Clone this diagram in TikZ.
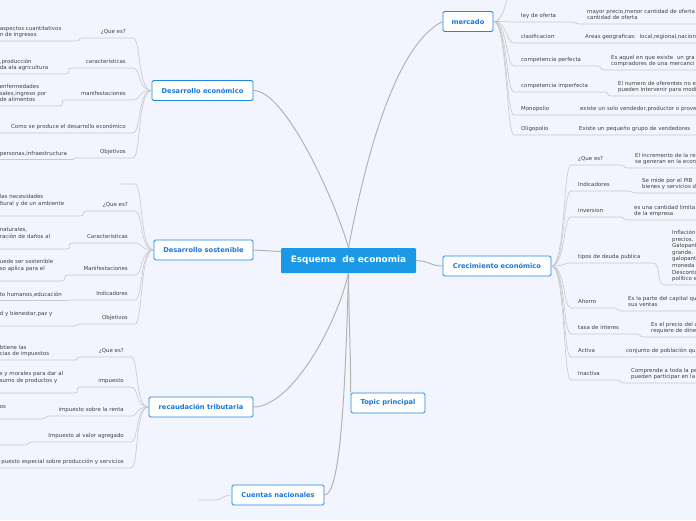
\documentclass[tikz,border=0pt]{standalone}
\usepackage{fontspec}
\setmainfont{DejaVu Sans}

\definecolor{paper}{RGB}{242,245,253}
\definecolor{rootblue}{RGB}{27,152,230}
\definecolor{topicblue}{RGB}{33,135,228}
\definecolor{topictext}{RGB}{22,120,220}
\definecolor{subtext}{RGB}{64,64,64}
\definecolor{linkgray}{RGB}{180,180,180}
\definecolor{twiggray}{RGB}{200,200,200}

\newcommand\lnstrut{\rule[-1.8pt]{0pt}{1.8pt}}

\tikzset{
  root/.style={fill=rootblue, text=white, font=\bfseries\fontsize{8.9}{10}\selectfont,
    minimum width=135pt, minimum height=25pt, rounded corners=1pt, inner sep=0pt},
  topic/.style={draw=topicblue, fill=white, text=topictext, line width=0.9pt,
    font=\bfseries\fontsize{6.7}{8}\selectfont, minimum height=20pt, rounded corners=1.5pt, inner sep=0pt},
  sub/.style={text=subtext, font=\fontsize{5.45}{6.6}\selectfont, inner xsep=7pt, inner ysep=2.4pt,
    execute at end node=\lnstrut},
  lsub/.style={sub, align=right, anchor=south east},
  rsub/.style={sub, align=left, anchor=south west},
  lleaf/.style={sub, inner xsep=0pt, align=left, anchor=south east},
  rleaf/.style={sub, text width=200pt, align=left, anchor=south west},
  link/.style={draw=linkgray, line width=1pt},
  twig/.style={draw=twiggray, line width=0.6pt},
}

\begin{document}
\begin{tikzpicture}[x=1pt,y=-1pt]
    \useasboundingbox (0,0) rectangle (696,520);
    \clip (0,0) rectangle (696,520);
    \fill[paper] (0,0) rectangle (696,520);

    \node[root] (root) at (348.5,260.5) {Esquema\ \ de economia};
    \node[topic, minimum width=101pt] (deco) at (202.5,90.5) {Desarrollo económico};
    \node[topic, minimum width=99pt] (desos) at (203.5,250) {Desarrollo sostenible};
    \node[topic, minimum width=104pt] (recaud) at (201,407) {recaudación tributaria};
    \node[topic, minimum width=92pt] (cuentas) at (278,495) {Cuentas nacionales};
    \node[topic, minimum width=74pt] (tp) at (388,403) {Topic principal};
    \node[topic, minimum width=50pt] (mercado) at (468,21.5) {mercado};
    \node[topic, minimum width=108pt] (crec) at (497,266) {Crecimiento económico};

    \draw[link] (root.north) .. controls (335,200) and (285,90) .. (deco.east);
    \draw[link] (root.north) .. controls (365,160) and (395,45) .. (mercado.west);
    \draw[link] ([yshift=9pt]root.west) -- (desos.east);
    \draw[link] (root.south) .. controls (335,330) and (290,407) .. (recaud.east);
    \draw[link] (root.south) .. controls (349,330) and (351,360) .. (tp.north west);
    \draw[link] (root.south) .. controls (345,400) and (340,495) .. (cuentas.east);
    \draw[link] (root.east) .. controls (430,261) and (430,266) .. (crec.west);

    \node[lsub, text width=36pt] (de1) at (133,38) {¿Que es?};
    \node[lsub, text width=47pt] (de2) at (133,68) {características};
    \node[lsub, text width=54pt] (de3) at (133,100) {manifestaciones};
    \node[lsub, text width=140pt] (de4) at (133,133) {Como se produce el desarrollo económico};
    \node[lsub, text width=44pt] (de5) at (133,158) {Objetivos};
    \node[lleaf, text width=76pt] (del1) at (76,41) {aspectos cuantitativos\\n de ingresos};
    \node[lleaf, text width=66pt] (del2) at (66,74) {,producción\\da ala agricultura};
    \node[lleaf, text width=60pt] (del3) at (60,106) {enfermedades\\sales,ingreso por\\de alimentos};
    \node[lleaf, text width=73pt] (del5) at (73,159.5) {personas,infraestructura};

    \draw[twig] (deco.west) .. controls +(-14,0) and +(8,0) .. (de1.south east) -- (de1.south west)
        .. controls +(-5,0) and +(5,0) .. (del1.south east) -- (del1.south west);
    \draw[twig] (deco.west) .. controls +(-14,0) and +(8,0) .. (de2.south east) -- (de2.south west)
        .. controls +(-5,0) and +(5,0) .. (del2.south east) -- (del2.south west);
    \draw[twig] (deco.west) .. controls +(-14,0) and +(8,0) .. (de3.south east) -- (de3.south west)
        .. controls +(-5,0) and +(5,0) .. (del3.south east) -- (del3.south west);
    \draw[twig] (deco.west) .. controls +(-14,0) and +(8,0) .. (de4.south east) -- (de4.south west);
    \draw[twig] (deco.west) .. controls +(-14,0) and +(8,0) .. (de5.south east) -- (de5.south west)
        .. controls +(-2,0) and +(2,0) .. (del5.south east) -- (del5.south west);

    \node[lsub, text width=1pt] (ds0) at (135,184) {};
    \node[lsub, text width=34pt] (ds1) at (135,211) {¿Que es?};
    \node[lsub, text width=49pt] (ds2) at (135,243) {Caracteristicas};
    \node[lsub, text width=53pt] (ds3) at (135,275) {Manifestaciones};
    \node[lsub, text width=51pt] (ds4) at (135,300) {Indicadores};
    \node[lsub, text width=41pt] (ds5) at (135,324) {Objetivos};
    \node[lleaf, text width=80pt] (dsl1) at (80,216) {las necesidades\\ltural y de un ambiente\\\mbox{}};
    \node[lleaf, text width=67pt] (dsl2) at (67,249) {naturales,\\ración de daños al\\\mbox{}};
    \node[lleaf, text width=62pt] (dsl3) at (62,281) {uede ser sostenible\\so aplica para el\\\mbox{}};
    \node[lleaf, text width=66pt] (dsl4) at (66,300.5) {to humanos,educación};
    \node[lleaf, text width=75pt] (dsl5) at (75,326) {d y bienestar,paz y\\\mbox{}};

    \draw[twig] (desos.west) .. controls +(-14,0) and +(8,0) .. (ds0.south east) -- (ds0.south west);
    \draw[twig] (desos.west) .. controls +(-14,0) and +(8,0) .. (ds1.south east) -- (ds1.south west)
        .. controls +(-5,0) and +(5,0) .. (dsl1.south east) -- (dsl1.south west);
    \draw[twig] (desos.west) .. controls +(-14,0) and +(8,0) .. (ds2.south east) -- (ds2.south west)
        .. controls +(-5,0) and +(5,0) .. (dsl2.south east) -- (dsl2.south west);
    \draw[twig] (desos.west) .. controls +(-14,0) and +(8,0) .. (ds3.south east) -- (ds3.south west)
        .. controls +(-5,0) and +(5,0) .. (dsl3.south east) -- (dsl3.south west);
    \draw[twig] (desos.west) .. controls +(-14,0) and +(8,0) .. (ds4.south east) -- (ds4.south west)
        .. controls +(-2,0) and +(2,0) .. (dsl4.south east) -- (dsl4.south west);
    \draw[twig] (desos.west) .. controls +(-14,0) and +(8,0) .. (ds5.south east) -- (ds5.south west)
        .. controls +(-3,0) and +(3,0) .. (dsl5.south east) -- (dsl5.south west);

    \node[lsub, text width=37pt] (rt1) at (131,357) {¿Que es?};
    \node[lsub, text width=37pt] (rt2) at (131,387) {impuesto};
    \node[lsub, text width=67pt] (rt3) at (131,416) {impuesto sobre la renta};
    \node[lsub, text width=85pt] (rt4) at (131,442) {Impuesto al valor agregado};
    \node[lsub, text width=140pt] (rt5) at (131,468) {puesto especial sobre producción y servicios};
    \node[lleaf, text width=75pt] (rtl1) at (75,360) {btiene las\\cias de impuestos};
    \node[lleaf, text width=75pt] (rtl2) at (75,393) {s y morales para dar al\\sumo de productos y\\\mbox{}};
    \node[lleaf, text width=42pt] (rtl3) at (42,419) {os\\\mbox{}};
    \node[lleaf, text width=25pt] (rtl4) at (25,445) {};

    \draw[twig] (recaud.west) .. controls +(-14,0) and +(8,0) .. (rt1.south east) -- (rt1.south west)
        .. controls +(-4,0) and +(4,0) .. (rtl1.south east) -- (rtl1.south west);
    \draw[twig] (recaud.west) .. controls +(-14,0) and +(8,0) .. (rt2.south east) -- (rt2.south west)
        .. controls +(-4,0) and +(4,0) .. (rtl2.south east) -- (rtl2.south west);
    \draw[twig] (recaud.west) .. controls +(-14,0) and +(8,0) .. (rt3.south east) -- (rt3.south west)
        .. controls +(-5,0) and +(5,0) .. (rtl3.south east) -- (rtl3.south west);
    \draw[twig] (recaud.west) .. controls +(-14,0) and +(8,0) .. (rt4.south east) -- (rt4.south west)
        .. controls +(-4,0) and +(4,0) .. (rtl4.south east) -- (rtl4.south west);
    \draw[twig] (recaud.west) .. controls +(-14,0) and +(8,0) .. (rt5.south east) -- (rt5.south west);

    \node[lsub, text width=2pt] (cn0) at (215,500) {};
    \draw[twig] (cuentas.west) .. controls +(-9,0) and +(7,0) .. (cn0.south east) -- (cn0.south west);

    \coordinate (mk0) at (512,-8);
    \node[rsub, text width=42pt] (mk1) at (514,22) {ley de oferta};
    \node[rsub, text width=50pt] (mk2) at (514,43) {clasificacion};
    \node[rsub, text width=69pt] (mk3) at (514,66) {competencia perfecta};
    \node[rsub, text width=76pt] (mk4) at (514,92) {competencia imperfecta};
    \node[rsub, text width=42pt] (mk5) at (514,115) {Monopolio};
    \node[rsub, text width=40pt] (mk6) at (514,135) {Oligopolio};
    \node[rleaf] (ml1) at (580,24) {mayor precio,menor cantidad de oferta\\cantidad de oferta};
    \node[rleaf] (ml2) at (578,43) {Areas geograficas:\ \ local,regional,naciona};
    \node[rleaf] (ml3) at (604,70) {Es aquel en que existe\ \ un gra\\compradores de una mercanci};
    \node[rleaf] (ml4) at (611,96) {El numero de oferentes no e\\pueden intervenir para modi};
    \node[rleaf] (ml5) at (573,115) {existe un solo vendedor,productor o prove};
    \node[rleaf] (ml6) at (572,135) {Existe un pequeño grupo de vendedores};

    \draw[twig] (mercado.east) .. controls +(12,0) and +(-6,0) .. (mk0);
    \draw[twig] (mercado.east) .. controls +(14,0) and +(-8,0) .. (mk1.south west) -- (mk1.south east)
        .. controls +(5,0) and +(-5,0) .. (ml1.south west) -- (ml1.south east);
    \draw[twig] (mercado.east) .. controls +(14,0) and +(-8,0) .. (mk2.south west) -- (mk2.south east)
        -- (ml2.south west) -- (ml2.south east);
    \draw[twig] (mercado.east) .. controls +(14,0) and +(-8,0) .. (mk3.south west) -- (mk3.south east)
        .. controls +(5,0) and +(-5,0) .. (ml3.south west) -- (ml3.south east);
    \draw[twig] (mercado.east) .. controls +(14,0) and +(-8,0) .. (mk4.south west) -- (mk4.south east)
        .. controls +(5,0) and +(-5,0) .. (ml4.south west) -- (ml4.south east);
    \draw[twig] (mercado.east) .. controls +(14,0) and +(-8,0) .. (mk5.south west) -- (mk5.south east)
        -- (ml5.south west) -- (ml5.south east);
    \draw[twig] (mercado.east) .. controls +(14,0) and +(-8,0) .. (mk6.south west) -- (mk6.south east)
        -- (ml6.south west) -- (ml6.south east);

    \node[rsub, text width=35pt] (ce1) at (571,165) {¿Que es?};
    \node[rsub, text width=43pt] (ce2) at (571,191) {Indicadores};
    \node[rsub, text width=35pt] (ce3) at (571,217) {inversion};
    \node[rsub, text width=67pt] (ce4) at (571,263) {tipos de deuda publica};
    \node[rsub, text width=29pt] (ce5) at (571,308) {Ahorro};
    \node[rsub, text width=51pt] (ce6) at (571,334) {tasa de interes};
    \node[rsub, text width=29pt] (ce7) at (571,357) {Activa};
    \node[rsub, text width=31pt] (ce8) at (571,380) {Inactiva};
    \node[rleaf] (cl1) at (628,168) {El incremento de la re\\se generan en la econ};
    \node[rleaf] (cl2) at (635,193) {Se mide por el PIB\\bienes y servicios d};
    \node[rleaf] (cl3) at (627,220) {es una cantidad limita\\de la empresa};
    \node[rleaf] (cl4) at (665,285) {Inflación\\precios.\\Galopant\\grande. I\\galopant\\moneda\\Desconto\\político e};
    \node[rleaf] (cl5) at (621,311) {Es la parte del capital qu\\sus ventas};
    \node[rleaf] (cl6) at (644,337) {Es el precio del c\\requiere de dine};
    \node[rleaf] (cl7) at (619,357) {conjunto de población qu};
    \node[rleaf] (cl8) at (624,383) {Comprende a toda la pe\\pueden participar en la};

    \draw[twig] (crec.east) .. controls +(14,0) and +(-8,0) .. (ce1.south west) -- (ce1.south east)
        .. controls +(5,0) and +(-5,0) .. (cl1.south west) -- (cl1.south east);
    \draw[twig] (crec.east) .. controls +(14,0) and +(-8,0) .. (ce2.south west) -- (ce2.south east)
        .. controls +(4,0) and +(-4,0) .. (cl2.south west) -- (cl2.south east);
    \draw[twig] (crec.east) .. controls +(14,0) and +(-8,0) .. (ce3.south west) -- (ce3.south east)
        .. controls +(5,0) and +(-5,0) .. (cl3.south west) -- (cl3.south east);
    \draw[twig] (crec.east) .. controls +(14,0) and +(-8,0) .. (ce4.south west) -- (ce4.south east)
        .. controls +(10,0) and +(-10,0) .. (cl4.south west) -- (cl4.south east);
    \draw[twig] (crec.east) .. controls +(14,0) and +(-8,0) .. (ce5.south west) -- (ce5.south east)
        .. controls +(5,0) and +(-5,0) .. (cl5.south west) -- (cl5.south east);
    \draw[twig] (crec.east) .. controls +(14,0) and +(-8,0) .. (ce6.south west) -- (ce6.south east)
        .. controls +(5,0) and +(-5,0) .. (cl6.south west) -- (cl6.south east);
    \draw[twig] (crec.east) .. controls +(14,0) and +(-8,0) .. (ce7.south west) -- (ce7.south east)
        -- (cl7.south west) -- (cl7.south east);
    \draw[twig] (crec.east) .. controls +(14,0) and +(-8,0) .. (ce8.south west) -- (ce8.south east)
        .. controls +(5,0) and +(-5,0) .. (cl8.south west) -- (cl8.south east);
\end{tikzpicture}
\end{document}
